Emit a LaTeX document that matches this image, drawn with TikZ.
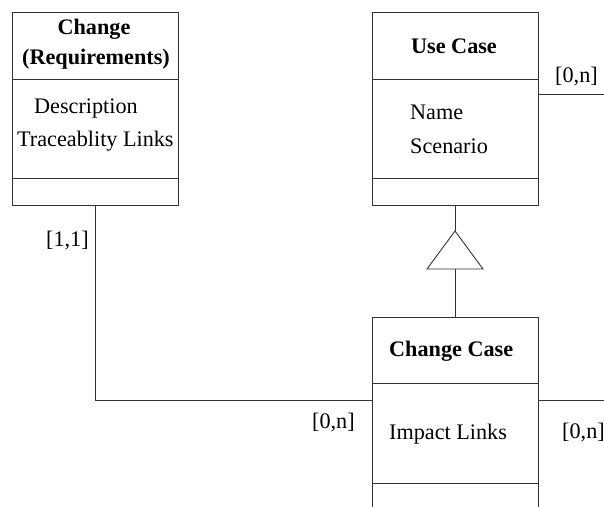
\documentclass[tikz,border=0pt]{standalone}
\usepackage{fontspec}
\setmainfont{Liberation Serif}
\begin{document}
\begin{tikzpicture}[x=1pt,y=-1pt,
  boxline/.style={draw=black!80, line width=0.9pt},
  classbox/.style={boxline, rectangle, inner sep=0pt, fill=none},
  lbl/.style={inner sep=0pt, anchor=base west, font=\fontsize{22.2}{26}\selectfont},
  ttl/.style={inner sep=0pt, anchor=base, font=\fontsize{22.2}{26}\selectfont\bfseries},
  conn/.style={draw=black!80, line width=0.9pt}]
\useasboundingbox (0,0) rectangle (604,506);
\clip (0,0) rectangle (604,506);
% Change (Requirements)
\node[classbox, minimum width=166pt, minimum height=193pt] (req) at (95,108.5) {};
\draw[boxline] (12,79) -- (178,79) (12,178) -- (178,178);
\node[ttl] (reqt1) at (94,34) {Change};
\node[ttl] (reqt2) at (96,64) {(Requirements)};
\node[lbl] (reqa1) at (34,113) {Description};
\node[lbl] (reqa2) at (17,146) {Traceablity Links};
% Use Case
\node[classbox, minimum width=166pt, minimum height=193pt] (uc) at (455,108.5) {};
\draw[boxline] (372,79) -- (538,79) (372,178) -- (538,178);
\node[ttl] (uct) at (454,53) {Use Case};
\node[lbl] (uca1) at (410,119) {Name};
\node[lbl] (uca2) at (410,153) {Scenario};
% Change Case
\node[classbox, minimum width=166pt, minimum height=193pt] (cc) at (455,413.5) {};
\draw[boxline] (372,383) -- (538,383) (372,483) -- (538,483);
\node[ttl, anchor=base west] (cct) at (389,356) {Change Case};
\node[lbl] (cca1) at (389,439) {Impact Links};
% generalization
\coordinate (tri) at (455,231);
\draw[boxline] (tri) -- (483,269) -- (427,269) -- cycle;
\draw[conn] (uc.south) -- (tri);
\draw[conn] (455,269) -- (cc.north);
% association req -- change case
\coordinate (ccl) at (372,400);
\draw[conn] (req.south) -- (95,400) -- (ccl);
% free ends
\coordinate (ucr) at (604,94);
\draw[conn] (538,94) -- (ucr);
\coordinate (ccr) at (604,400);
\draw[conn] (538,400) -- (ccr);
% multiplicities
\node[lbl] (m1) at (46,246) {[1,1]};
\node[lbl] (m2) at (312,428) {[0,n]};
\node[lbl] (m3) at (555,82) {[0,n]};
\node[lbl] (m4) at (562,438) {[0,n]};
\end{tikzpicture}
\end{document}
